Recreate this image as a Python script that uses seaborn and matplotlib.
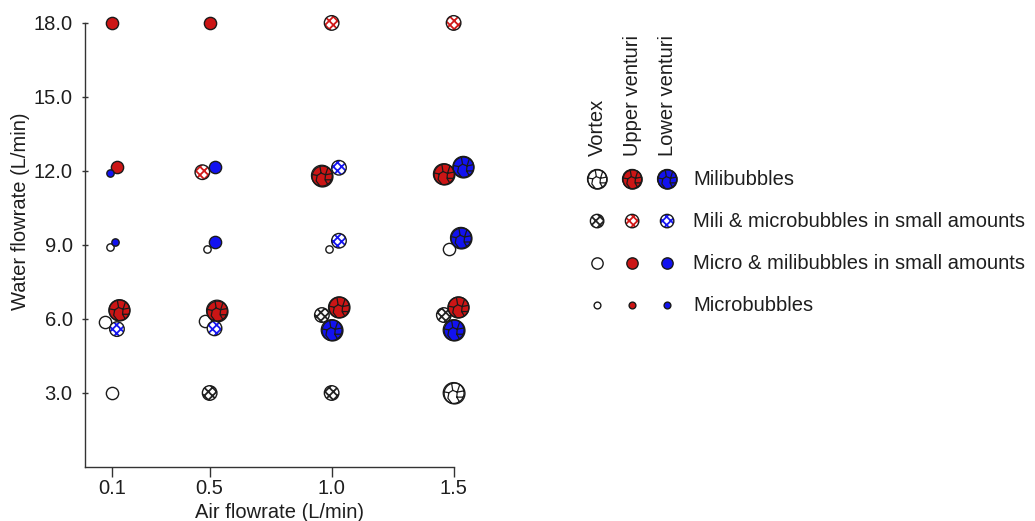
import numpy as np
import pandas as pd
import matplotlib.pyplot as plt
from matplotlib.path import Path
import seaborn as sns

# data (x jittered a little in the original to avoid overlap)
air_flow = [0.10, 0.50, 1.00, 1.50, 0.07, 0.48, 0.96, 1.46, 0.09, 0.49, 0.99, 1.48,   # Vortex
            0.13, 0.53, 1.03, 1.52, 0.12, 0.47, 0.96, 1.46, 0.10, 0.50, 1.00, 1.50,   # Upper venturi
            0.12, 0.52, 1.00, 1.50, 0.11, 0.52, 1.03, 1.53, 0.09, 0.52, 1.03, 1.54]   # Lower venturi
water_flow = [3.0, 3.0, 3.0, 3.0, 5.89, 5.93, 6.16, 6.16, 8.91, 8.85, 8.85, 8.84,
              6.36, 6.34, 6.47, 6.47, 12.15, 11.95, 11.81, 11.87, 18.0, 18.0, 18.0, 18.0,
              5.59, 5.62, 5.55, 5.55, 9.12, 9.13, 9.17, 9.29, 11.91, 12.17, 12.13, 12.17]
device = ['Vortex'] * 12 + ['Upper venturi'] * 12 + ['Lower venturi'] * 12
bubble = ['micro_mili', 'mili_micro', 'mili_micro', 'mili',
          'micro_mili', 'micro_mili', 'mili_micro', 'mili_micro',
          'micro', 'micro', 'micro', 'micro_mili',
          'mili', 'mili', 'mili', 'mili',
          'micro_mili', 'mili_micro', 'mili', 'mili',
          'micro_mili', 'micro_mili', 'mili_micro', 'mili_micro',
          'mili_micro', 'mili_micro', 'mili', 'mili',
          'micro', 'micro_mili', 'mili_micro', 'mili',
          'micro', 'micro_mili', 'mili_micro', 'mili']

devices = ['Vortex', 'Upper venturi', 'Lower venturi']
bubble_types = ['mili', 'mili_micro', 'micro_mili', 'micro']
bubble_labels = ['Milibubbles', 'Mili & microbubbles in small amounts',
                 'Micro & milibubbles in small amounts', 'Microbubbles']
x_ticks = [0.1, 0.5, 1.0, 1.5]
y_ticks = [3, 6, 9, 12, 15, 18]

df = pd.DataFrame({'air': air_flow, 'water': water_flow, 'device': device, 'bubble': bubble})

face_colors = {'Vortex': 'white', 'Upper venturi': '#cc1515', 'Lower venturi': '#1212f0'}
hatch_colors = {'Vortex': '#222222', 'Upper venturi': '#d01818', 'Lower venturi': '#1515f0'}
sizes = {'mili': 225, 'mili_micro': 110, 'micro_mili': 78, 'micro': 28}
dark = '#1a1a1a'
txt = '#1e1e1e'

# circle with "cracks" for the milibubble marker
circle = Path.unit_circle()
cracks = [
    [(-0.97, 0.12), (-0.45, 0.02), (-0.08, 0.25), (0.35, 0.08), (0.97, 0.2)],
    [(-0.08, 0.25), (-0.2, 0.96)],
    [(0.35, 0.08), (0.3, -0.4), (0.55, -0.82)],
    [(-0.45, 0.02), (-0.55, -0.5), (-0.2, -0.97)],
    [(0.3, -0.4), (0.9, -0.4)],
    [(0.35, 0.08), (0.58, 0.78)],
]
crack_marker = Path.make_compound_path(circle, *[Path(c) for c in cracks])

sns.set_style('white')
plt.rcParams['font.family'] = ['Liberation Sans', 'DejaVu Sans']
plt.rcParams['hatch.linewidth'] = 1.3


def draw(ax, sub, dev, btype, z, scale=1.0):
    s = sizes[btype] * scale
    face = face_colors[dev]
    kw = dict(data=sub, x='air', y='water', ax=ax, legend=False, clip_on=False, s=s)
    if btype == 'mili':
        sns.scatterplot(color=face, edgecolor=dark, linewidth=1.0, marker='o', zorder=z, **kw)
        sns.scatterplot(color='none', edgecolor=dark, linewidth=0.9, marker=crack_marker,
                        zorder=z + 0.1, **kw)
    elif btype == 'mili_micro':
        sns.scatterplot(color='white', edgecolor=hatch_colors[dev], linewidth=0, marker='o',
                        hatch='xxxx', zorder=z, **kw)
        sns.scatterplot(color='none', edgecolor=dark, linewidth=1.0, marker='o',
                        zorder=z + 0.1, **kw)
    else:
        sns.scatterplot(color=face, edgecolor=dark, linewidth=1.0, marker='o', zorder=z, **kw)


fig = plt.figure(figsize=(10.35, 5.21), dpi=100)
ax = fig.add_axes([85 / 1035, 54 / 521, 393 / 1035, 463.8 / 521])

for i, dev in enumerate(devices):
    for btype in bubble_types:
        sub = df[(df['device'] == dev) & (df['bubble'] == btype)]
        if len(sub):
            draw(ax, sub, dev, btype, 3 + i)

ax.set_xlim(-0.011, 1.6)
ax.set_ylim(0, 18.8)
ax.set_xticks(x_ticks)
ax.set_xticklabels([f'{v:.1f}' for v in x_ticks])
ax.set_yticks(y_ticks)
ax.set_yticklabels([f'{v:.1f}' for v in y_ticks])
sns.despine(ax=ax)
ax.spines['left'].set_bounds(0, 18)
ax.spines['bottom'].set_bounds(-0.011, 1.5)
for sp in ['left', 'bottom']:
    ax.spines[sp].set_color('#333333')
    ax.spines[sp].set_linewidth(1.0)
ax.tick_params(axis='y', direction='inout', length=4, width=1, color='#333333',
               pad=7, labelsize=14.5, labelcolor=txt, left=True)
ax.tick_params(axis='x', direction='out', length=7, width=1, color='#333333',
               pad=2, labelsize=14.5, labelcolor=txt, bottom=True)
ax.set_xlabel('Air flowrate (L/min)', fontsize=14.5, color=txt)
ax.set_ylabel('Water flowrate (L/min)', fontsize=14.5, color=txt)
ax.xaxis.set_label_coords(0.494, -0.077)
ax.yaxis.set_label_coords(-0.14, 0.552)
ax.grid(False)

# hand-made legend: device columns x bubble-type rows
lax = fig.add_axes([560 / 1035, 181 / 521, 475 / 1035, 340 / 521])
lax.axis('off')
lax.set_xlim(-1.06, 12.51)
lax.set_ylim(3.83, -4.26)
leg = pd.DataFrame({'air': [i for i in range(3) for _ in bubble_types],
                    'water': [j for _ in devices for j in range(4)],
                    'device': [d for d in devices for _ in bubble_types],
                    'bubble': [b for _ in devices for b in bubble_types]})
for i, dev in enumerate(devices):
    lax.text(i, -0.55, dev, rotation=90, ha='center', va='bottom', fontsize=14.5, color=txt)
    for btype in bubble_types:
        sub = leg[(leg['device'] == dev) & (leg['bubble'] == btype)]
        draw(lax, sub, dev, btype, 3 + i, scale=0.85)
for j, lab in enumerate(bubble_labels):
    lax.text(2.74, j, lab, ha='left', va='center', fontsize=14.5, color=txt)

fig.savefig('out.png', dpi=100)
